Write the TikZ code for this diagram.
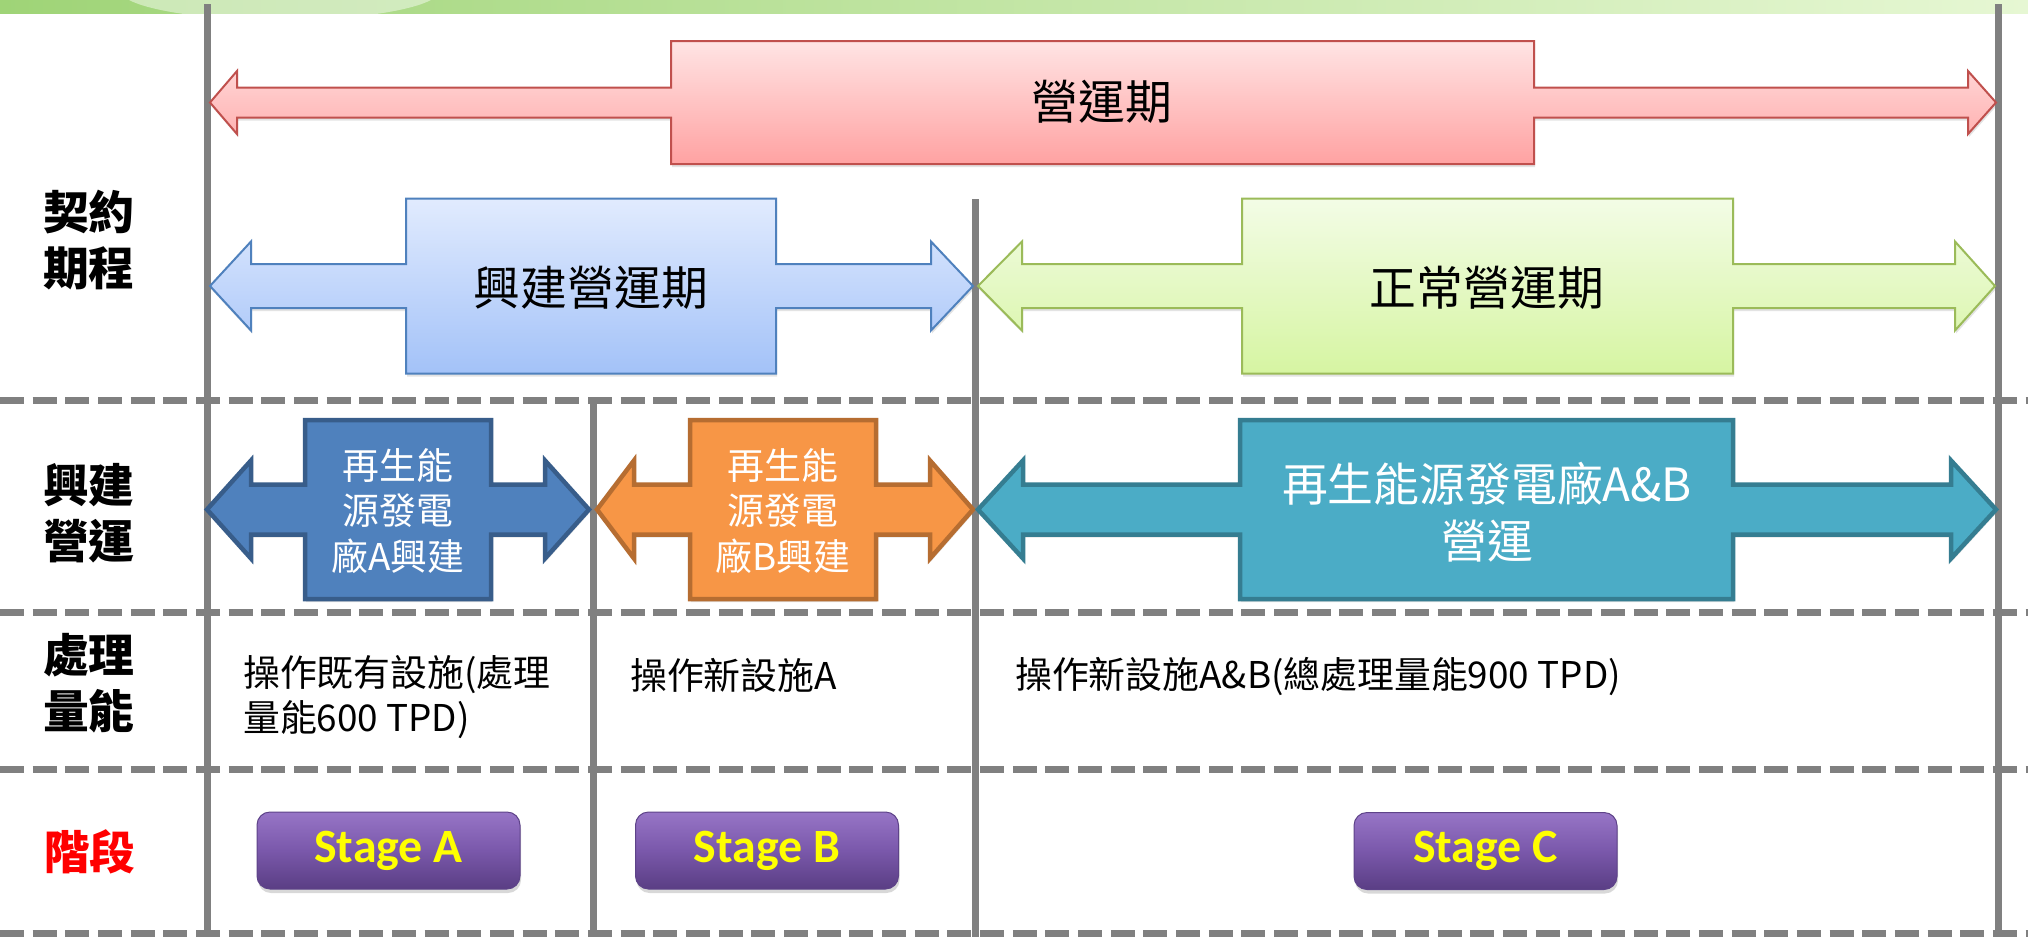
\documentclass[tikz,border=0pt]{standalone}
\usepackage{fontspec}
\usetikzlibrary{shadows}
\newfontfamily\cjk{Noto Sans CJK TC}
\newfontfamily\stagefont{Carlito}
\definecolor{gridgray}{HTML}{808080}
\definecolor{pinkline}{HTML}{C0504D}
\definecolor{pinktop}{HTML}{FFE4E4}
\definecolor{pinkbot}{HTML}{FFA2A2}
\definecolor{blueline}{HTML}{4F81BD}
\definecolor{bluetop}{HTML}{E1EBFE}
\definecolor{bluebot}{HTML}{A3C2F8}
\definecolor{greenline}{HTML}{9BBB59}
\definecolor{greentop}{HTML}{F3FCE6}
\definecolor{greenbot}{HTML}{D6F5A2}
\definecolor{dkblue}{HTML}{4F81BD}
\definecolor{dkblueline}{HTML}{385D8A}
\definecolor{orangefill}{HTML}{F79646}
\definecolor{orangeline}{HTML}{B66D31}
\definecolor{tealfill}{HTML}{4BACC6}
\definecolor{tealline}{HTML}{357D91}
\definecolor{purpletop}{HTML}{9775C6}
\definecolor{purplemid}{HTML}{7A58AB}
\definecolor{purplebot}{HTML}{5A3E84}
\definecolor{purpleline}{HTML}{5E4389}
\definecolor{stageyellow}{HTML}{FFFF00}
\definecolor{bannerleft}{HTML}{9FD477}
\definecolor{bannerright}{HTML}{E6F7D3}
\newcommand\setarrowy[4]{\def\ay{#1}\def\ash{#2}\def\ahh{#3}\def\abh{#4}}
\newcommand\dblarrow[7]{%
  \path[#1] (#2,\ay) -- (#3,\ay-\ahh) -- (#3,\ay-\ash) -- (#4,\ay-\ash) -- (#4,\ay-\abh)
    -- (#5,\ay-\abh) -- (#5,\ay-\ash) -- (#6,\ay-\ash) -- (#6,\ay-\ahh) -- (#7,\ay)
    -- (#6,\ay+\ahh) -- (#6,\ay+\ash) -- (#5,\ay+\ash) -- (#5,\ay+\abh) -- (#4,\ay+\abh)
    -- (#4,\ay+\ash) -- (#3,\ay+\ash) -- (#3,\ay+\ahh) -- cycle;}
\begin{document}
\begin{tikzpicture}[x=1bp,y=-1bp,
  gridline/.style={draw=gridgray, line width=7bp},
  dashline/.style={gridline, dash pattern=on 24bp off 8.67bp},
  softshadow/.style={drop shadow={opacity=0.22, shadow xshift=1bp, shadow yshift=-3bp}},
  lightarrow/.style={softshadow, line width=2bp, line join=miter},
  darkarrow/.style={softshadow, line width=4.5bp, line join=miter},
  rowlab/.style={font={\cjk\bfseries\fontsize{46}{56}\selectfont}, align=center, inner sep=0pt},
  biglabel/.style={font={\cjk\fontsize{47}{56}\selectfont}, inner sep=0pt},
  boxtext/.style={font={\cjk\fontsize{37}{46}\selectfont}, text=white, align=center, inner sep=0pt},
  tealtext/.style={font={\cjk\fontsize{46}{57}\selectfont}, text=white, align=center, inner sep=0pt},
  captext/.style={font={\cjk\fontsize{37}{45}\selectfont}, align=left, inner sep=0pt},
  stagebtn/.style={rounded corners=13bp, draw=purpleline, line width=1bp,
     top color=purpletop, bottom color=purplebot, middle color=purplemid,
     drop shadow={opacity=0.3, shadow xshift=1bp, shadow yshift=-4bp},
     minimum width=263bp, minimum height=77bp, inner sep=0pt,
     font={\stagefont\bfseries\fontsize{48}{52}\selectfont}, text=stageyellow}]
\useasboundingbox (0,0) rectangle (2028,937);
\fill[white] (0,0) rectangle (2028,937);
% banner strip
\shade[left color=bannerleft, right color=bannerright] (0,0) rectangle (2028,13);
\begin{scope}
  \clip (0,0) rectangle (2028,13);
  \fill[white, opacity=0.45] (280,-10) ellipse [x radius=160bp, y radius=30bp];
\end{scope}
% grid
\draw[gridline] (207,4) -- (207,937);
\draw[gridline] (1998,4) -- (1998,937);
\draw[gridline] (975,199) -- (975,937);
\draw[gridline] (593,400) -- (593,937);
\draw[dashline] (0,400) -- (2028,400);
\draw[dashline] (0,612) -- (2028,612);
\draw[dashline] (0,769) -- (2028,769);
\draw[dashline] (0,933) -- (2028,933);
% row 1 arrows
\setarrowy{102.5}{15}{31.5}{61.5}
\dblarrow{lightarrow, draw=pinkline, top color=pinktop, bottom color=pinkbot}{210}{237}{671}{1534}{1968}{1996}
\setarrowy{286}{22}{44.5}{87.5}
\dblarrow{lightarrow, draw=blueline, top color=bluetop, bottom color=bluebot}{210}{251}{406}{776}{931}{973}
\dblarrow{lightarrow, draw=greenline, top color=greentop, bottom color=greenbot}{978}{1022}{1242}{1733}{1955}{1995}
% row 2 arrows
\setarrowy{509.5}{25}{49}{89.5}
\dblarrow{darkarrow, draw=dkblueline, fill=dkblue}{207}{251}{305}{491}{545}{589}
\dblarrow{darkarrow, draw=orangeline, fill=orangefill}{597}{634}{690}{876}{930}{973}
\dblarrow{darkarrow, draw=tealline, fill=tealfill}{978}{1023}{1240}{1733}{1951}{1996}
% texts
\node[biglabel] (t1) at (1102,102) {營運期};
\node[biglabel] (t2) at (591,288) {興建營運期};
\node[biglabel] (t3) at (1487,288) {正常營運期};
\node[boxtext] (t4) at (398,511) {再生能\\源發電\\廠A興建};
\node[boxtext] (t5) at (783,511) {再生能\\源發電\\廠B興建};
\node[tealtext] (t6) at (1487,512) {再生能源發電廠A\&B\\營運};
\node[rowlab] (r1) at (89,240) {契約\\期程};
\node[rowlab] (r2) at (89,513) {興建\\營運};
\node[rowlab] (r3) at (89,683) {處理\\量能};
\node[rowlab, text=red] (r4) at (90,852) {階段};
\node[captext, anchor=west] (c1) at (243,697) {操作既有設施(處理\\量能600 TPD)};
\node[captext, anchor=west] (c2) at (630,675) {操作新設施A};
\node[captext, anchor=west] (c3) at (1015,677) {操作新設施A\&B(總處理量能900 TPD)};
% stages
\node[stagebtn] (sa) at (388.5,850.5) {Stage A};
\node[stagebtn] (sb) at (767,850.5) {Stage B};
\node[stagebtn] (sc) at (1485.5,851) {Stage C};
\end{tikzpicture}
\end{document}
